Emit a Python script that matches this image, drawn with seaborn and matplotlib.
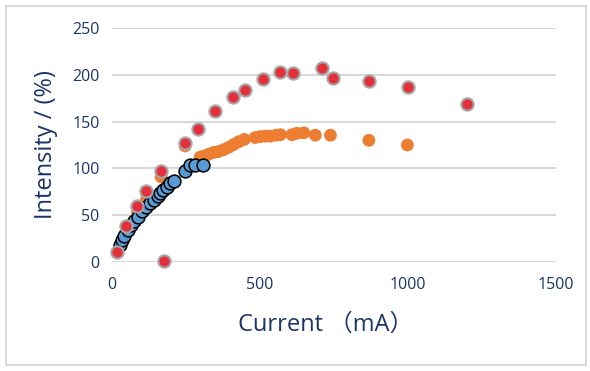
import matplotlib
matplotlib.use("Agg")
import matplotlib.pyplot as plt
import pandas as pd
import seaborn as sns
from matplotlib.patches import Rectangle

# Series (current in mA, intensity in %)
red_x = [17, 46, 86, 116, 167, 177, 247, 289, 349, 409, 448, 509, 569, 610,
         708, 747, 868, 999, 1201]
red_y = [11, 38, 60, 76, 97, 1, 127, 142, 161, 176, 184, 195, 203, 202,
         207, 197, 193, 187, 169]

orange_x = [17, 46, 86, 116, 166, 247, 298, 309, 326, 343, 360, 377, 394, 411,
            428, 447, 484, 501, 518, 535, 555, 569, 608, 625, 648, 687, 738,
            868, 998]
orange_y = [10, 32, 53, 66, 91, 124, 112, 113, 115, 117, 118, 120, 122.5,
            125.5, 128.5, 131, 133, 134, 134.5, 134.5, 135.5, 136, 136, 137.5,
            138, 135.5, 135.5, 130, 125]

blue_x = [27, 33, 42, 53, 64, 76, 87, 100, 114, 129, 143, 155, 163, 174, 185,
          196, 208, 247, 264, 281, 306]
blue_y = [18, 23.5, 28, 34, 39.5, 44, 48.5, 54, 59, 63, 66, 70.5, 74, 77, 80,
          84, 87, 97.5, 103.5, 103.5, 103.5]

x_ticks = [0, 500, 1000, 1500]
y_ticks = [0, 50, 100, 150, 200, 250]

red = pd.DataFrame({"current": red_x, "intensity": red_y})
orange = pd.DataFrame({"current": orange_x, "intensity": orange_y})
blue = pd.DataFrame({"current": blue_x, "intensity": blue_y})

sns.set_style("white")
plt.rcParams["font.family"] = ["Open Sans", "Noto Sans CJK SC", "DejaVu Sans"]
text_color = "#1c3567"
grid_color = "#d9d9d9"

fig = plt.figure(figsize=(5.9, 3.71), dpi=100)
ax = fig.add_axes([0.1898, 0.2938, 0.7525, 0.6307])

# outer chart frame
fig.patches.append(Rectangle((6 / 590, 6 / 371), 580 / 590, 359 / 371,
                             transform=fig.transFigure, fill=False,
                             edgecolor=grid_color, linewidth=1.5))

sns.scatterplot(data=orange, x="current", y="intensity", ax=ax,
                color="#ed7d31", edgecolor="none", s=85, zorder=3,
                clip_on=False)
sns.scatterplot(data=blue, x="current", y="intensity", ax=ax,
                color="#5b9bd5", edgecolor="black", linewidth=1.1, s=85,
                zorder=4, clip_on=False)
sns.scatterplot(data=red, x="current", y="intensity", ax=ax,
                color="#e3303b", edgecolor="#a6a6a6", linewidth=1.5, s=78,
                zorder=5, clip_on=False)

ax.set_xlim(0, 1500)
ax.set_ylim(0, 250)
ax.set_xticks(x_ticks)
ax.set_yticks(y_ticks)
ax.yaxis.grid(True, color=grid_color, linewidth=1.5)
ax.xaxis.grid(False)
ax.set_axisbelow(True)
for side in ["top", "right", "left", "bottom"]:
    ax.spines[side].set_visible(False)

ax.tick_params(axis="both", length=0, labelsize=11.5, labelcolor=text_color)
ax.tick_params(axis="x", pad=11)
ax.tick_params(axis="y", pad=9)

ax.set_xlabel("Current （mA）", fontsize=17, color=text_color)
ax.set_ylabel("Intensity / (%)", fontsize=17, color=text_color)
ax.xaxis.set_label_coords(0.482, -0.215)
ax.yaxis.set_label_coords(-0.122, 0.5)

fig.savefig("out.png", dpi=100)
